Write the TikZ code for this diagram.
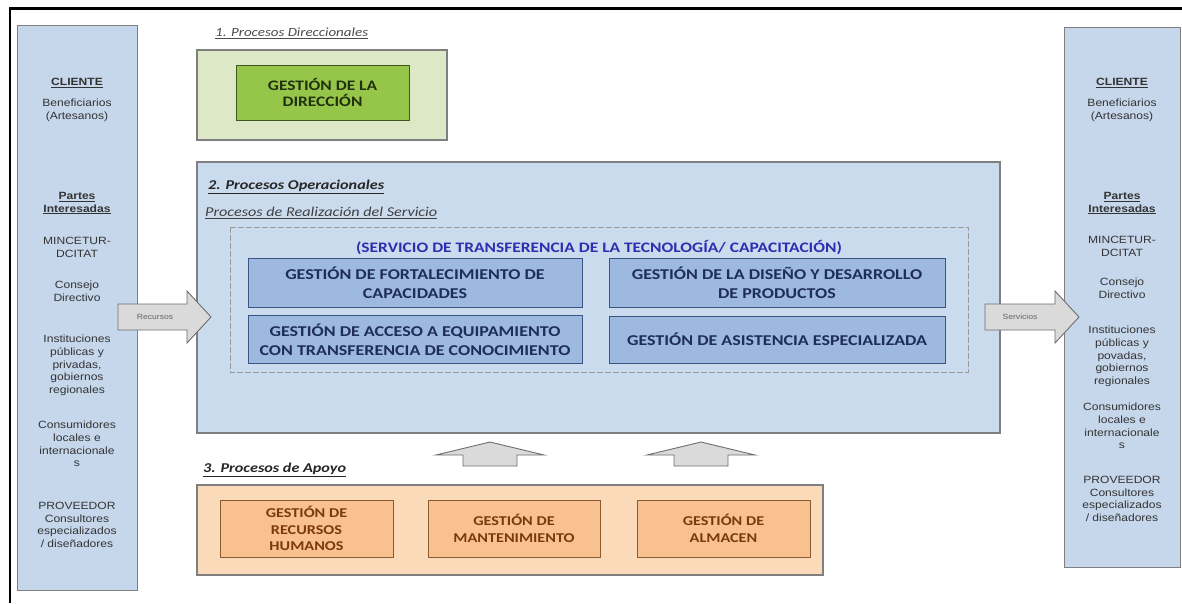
\documentclass[tikz,border=0pt]{standalone}
\usepackage{fontspec}
\newfontfamily\calb[FakeStretch=1.2]{Carlito}
\newfontfamily\arl[FakeStretch=1.15]{Liberation Sans}
\definecolor{sidefill}{HTML}{C6D7EC}
\definecolor{sideborder}{HTML}{7F7F7F}
\definecolor{opfill}{HTML}{CBDBEE}
\definecolor{bluebox}{HTML}{9DB9DF}
\definecolor{blueborder}{HTML}{3A5583}
\definecolor{bluetext}{HTML}{1F2D5C}
\definecolor{titleblue}{HTML}{2E2EB0}
\definecolor{greenout}{HTML}{DCE8C6}
\definecolor{greenin}{HTML}{95C64A}
\definecolor{greenborder}{HTML}{3E5A1E}
\definecolor{greentext}{HTML}{22300C}
\definecolor{orangeout}{HTML}{FBDABA}
\definecolor{orangein}{HTML}{F9C18F}
\definecolor{orangeborder}{HTML}{8A5A30}
\definecolor{orangetext}{HTML}{7A3A0C}
\definecolor{arrowfill}{HTML}{DADADA}
\definecolor{arrowborder}{HTML}{6E6E6E}
\definecolor{sidetext}{HTML}{333333}
\tikzset{
  sidebox/.style={draw=sideborder, fill=sidefill, line width=1pt},
  sidetxt/.style={font=\arl\fontsize{10.5}{12.7}\selectfont, text=sidetext, align=center, inner sep=0pt},
  outerbox/.style={draw=sideborder, line width=1.1pt},
  opbox/.style={draw=blueborder, fill=bluebox, line width=1pt, inner sep=0pt, align=center,
    font=\calb\bfseries\fontsize{15}{18.5}\selectfont, text=bluetext},
  greenbox/.style={draw=greenborder, fill=greenin, line width=1pt, inner sep=0pt, align=center,
    font=\calb\bfseries\fontsize{14.5}{16}\selectfont, text=greentext},
  orbox/.style={draw=orangeborder, fill=orangein, line width=1pt, inner sep=0pt, align=center,
    font=\calb\bfseries\fontsize{13.5}{16.5}\selectfont, text=orangetext},
  grouplabel/.style={anchor=west, inner sep=0pt, text=black!85},
  blockarrow/.style={draw=arrowborder, fill=arrowfill, line width=0.9pt, line join=miter},
  arrowtxt/.style={font=\arl\fontsize{7.5}{9}\selectfont, text=black!60, inner sep=0pt}
}
\begin{document}
\begin{tikzpicture}[x=1pt,y=-1pt]
\useasboundingbox (0,0) rectangle (1182,603);
\fill[white] (0,0) rectangle (1182,603);
% frame
\draw[line width=3pt] (10,8) -- (1182,8);
\draw[line width=1.6pt] (10,7) -- (10,603);

% left client box
\draw[sidebox] (17,25) rectangle (137,590);
\node[sidetxt] (lcli) at (77,83) {\bfseries\underline{CLIENTE}};
\node[sidetxt, anchor=north] (lben) at (77,99) {Beneficiarios\\(Artesanos)};
\node[sidetxt, anchor=north] (lpar) at (77,192) {\bfseries\underline{Partes}\\\bfseries\underline{Interesadas}};
\node[sidetxt, anchor=north] (lmin) at (77,237) {MINCETUR-\\DCITAT};
\node[sidetxt, anchor=north] (lcon) at (77,281) {Consejo\\Directivo};
\node[sidetxt, anchor=north] (lins) at (77,335) {Instituciones\\públicas y\\privadas,\\gobiernos\\regionales};
\node[sidetxt, anchor=north] (lcons) at (77,421) {Consumidores\\locales e\\internacionale\\s};
\node[sidetxt, anchor=north] (lprov) at (77,502) {PROVEEDOR\\Consultores\\especializados\\/ diseñadores};

% right client box
\draw[sidebox] (1064,27) rectangle (1180,567);
\node[sidetxt] (rcli) at (1122,83) {\bfseries\underline{CLIENTE}};
\node[sidetxt, anchor=north] (rben) at (1122,99) {Beneficiarios\\(Artesanos)};
\node[sidetxt, anchor=north] (rpar) at (1122,192) {\bfseries\underline{Partes}\\\bfseries\underline{Interesadas}};
\node[sidetxt, anchor=north] (rmin) at (1122,236) {MINCETUR-\\DCITAT};
\node[sidetxt, anchor=north] (rcon) at (1122,278) {Consejo\\Directivo};
\node[sidetxt, anchor=north] (rins) at (1122,326) {Instituciones\\públicas y\\povadas,\\gobiernos\\regionales};
\node[sidetxt, anchor=north] (rcons) at (1122,403) {Consumidores\\locales e\\internacionale\\s};
\node[sidetxt, anchor=north] (rprov) at (1122,476) {PROVEEDOR\\Consultores\\especializados\\/ diseñadores};

% 1. direccionales
\node[grouplabel, font=\calb\itshape\fontsize{12.5}{14}\selectfont, text=black!70] (lab1) at (215,33) {\underline{1. Procesos Direccionales}};
\draw[outerbox, fill=greenout] (197,50) rectangle (447,140);
\node[greenbox, minimum width=173, minimum height=55] (dir) at (322.5,92.5) {GESTIÓN DE LA\\DIRECCIÓN};

% 2. operacionales
\draw[outerbox, fill=opfill] (197,162) rectangle (1000,433);
\node[grouplabel, font=\calb\bfseries\itshape\fontsize{13.5}{15}\selectfont] (lab2) at (208,187) {\underline{2. Procesos Operacionales}};
\node[grouplabel, font=\calb\itshape\fontsize{13.5}{15}\selectfont, text=black!75] (lab2b) at (205,213) {\underline{Procesos de Realización del Servicio}};
\draw[black!40, line width=0.7pt, dash pattern=on 6pt off 2pt] (230,227) rectangle (968,372);
\node[inner sep=0pt, font=\calb\bfseries\fontsize{14.5}{16}\selectfont, text=titleblue] (serv) at (599,248) {(SERVICIO DE TRANSFERENCIA DE LA TECNOLOGÍA/ CAPACITACIÓN)};
\node[opbox, minimum width=334, minimum height=49] (fort) at (415,282.5) {GESTIÓN DE FORTALECIMIENTO DE\\CAPACIDADES};
\node[opbox, minimum width=336, minimum height=49] (dise) at (777,282.5) {GESTIÓN DE LA DISEÑO Y DESARROLLO\\DE PRODUCTOS};
\node[opbox, minimum width=334, minimum height=48] (acce) at (415,339.5) {GESTIÓN DE ACCESO A EQUIPAMIENTO\\CON TRANSFERENCIA DE CONOCIMIENTO};
\node[opbox, minimum width=336, minimum height=47] (asis) at (777,339.5) {GESTIÓN DE ASISTENCIA ESPECIALIZADA};

% horizontal arrows
\draw[blockarrow] (118,304) -- (187,304) -- (187,291) -- (211,317) -- (187,343) -- (187,330) -- (118,330) -- cycle;
\node[arrowtxt] (rec) at (155,317) {Recursos};
\draw[blockarrow] (985,304) -- (1055,304) -- (1055,291) -- (1079,317) -- (1055,343) -- (1055,330) -- (985,330) -- cycle;
\node[arrowtxt] (ser) at (1020,317) {Servicios};

% up arrows
\draw[blockarrow] (463,466) -- (463,455) -- (436,455) -- (490,442) -- (544,455) -- (517,455) -- (517,466) -- cycle;
\draw[blockarrow] (674,466) -- (674,455) -- (647,455) -- (701,442) -- (755,455) -- (728,455) -- (728,466) -- cycle;

% 3. apoyo
\node[grouplabel, font=\calb\bfseries\itshape\fontsize{13.5}{15}\selectfont] (lab3) at (203,470) {\underline{3. Procesos de Apoyo}};
\draw[outerbox, fill=orangeout] (197,485) rectangle (823,575);
\node[orbox, minimum width=173, minimum height=57] (rrhh) at (306.5,528.5) {GESTIÓN DE\\RECURSOS\\HUMANOS};
\node[orbox, minimum width=172, minimum height=57] (mant) at (514,528.5) {GESTIÓN DE\\MANTENIMIENTO};
\node[orbox, minimum width=173, minimum height=57] (alma) at (723.5,528.5) {GESTIÓN DE\\ALMACEN};
\end{tikzpicture}
\end{document}
